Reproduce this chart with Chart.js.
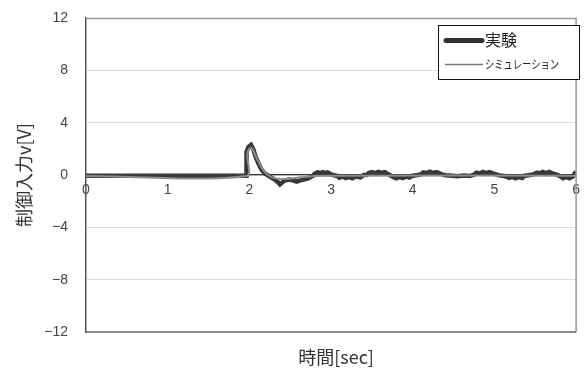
<!DOCTYPE html>
<html>
<head>
<meta charset="utf-8">
<script src="https://cdn.jsdelivr.net/npm/chart.js@4"></script>
<style>
  body { margin: 0; background: #fff; }
  #wrap { width: 587px; height: 372px; position: relative; }
</style>
</head>
<body>
<div id="wrap"><canvas id="grafico"></canvas></div>
<script>
"use strict";
// Datos
const expTiempo = [0, 1.96, 1.965, 1.99, 2.02, 2.05, 2.07, 2.11, 2.15, 2.19, 2.25, 2.31, 2.35, 2.375, 2.40, 2.43, 2.49, 2.54, 2.58, 2.64, 2.72, 2.78, 2.80, 2.84, 2.86, 2.90, 2.93, 2.96, 3.00, 3.04, 3.08, 3.10, 3.14, 3.18, 3.22, 3.26, 3.30, 3.36, 3.40, 3.44, 3.46, 3.50, 3.54, 3.58, 3.62, 3.66, 3.70, 3.72, 3.76, 3.80, 3.84, 3.88, 3.92, 3.96, 4.0, 4.06, 4.10, 4.13, 4.17, 4.21, 4.25, 4.29, 4.33, 4.36, 4.40, 4.48, 4.55, 4.62, 4.70, 4.75, 4.78, 4.82, 4.86, 4.90, 4.94, 4.98, 5.02, 5.06, 5.12, 5.16, 5.18, 5.22, 5.26, 5.30, 5.34, 5.37, 5.42, 5.48, 5.52, 5.55, 5.59, 5.63, 5.67, 5.71, 5.75, 5.78, 5.82, 5.84, 5.88, 5.92, 5.96, 5.98, 6.0];
const expValor = [-0.05, -0.05, 1.75, 2.15, 2.3, 1.95, 1.5, 0.9, 0.4, 0.12, -0.12, -0.35, -0.55, -0.72, -0.58, -0.42, -0.35, -0.42, -0.5, -0.38, -0.25, -0.05, 0.1, 0.2, 0.12, 0.22, 0.15, 0.2, 0.05, -0.02, -0.08, -0.2, -0.12, -0.24, -0.15, -0.25, -0.12, -0.18, 0.0, 0.02, 0.15, 0.22, 0.14, 0.24, 0.16, 0.22, 0.05, 0.0, -0.15, -0.25, -0.14, -0.24, -0.12, -0.2, -0.05, 0.0, 0.05, 0.2, 0.14, 0.25, 0.15, 0.22, 0.12, 0.05, -0.02, -0.06, -0.1, -0.04, -0.08, 0.02, 0.18, 0.12, 0.24, 0.15, 0.22, 0.12, 0.05, -0.03, -0.08, -0.15, -0.22, -0.14, -0.25, -0.15, -0.22, -0.05, -0.02, 0.05, 0.18, 0.12, 0.24, 0.15, 0.23, 0.12, 0.05, -0.02, -0.15, -0.24, -0.14, -0.25, -0.12, 0.1, 0.25];
const simTiempo = [0, 1.965, 1.975, 2.0, 2.03, 2.06, 2.1, 2.15, 2.2, 2.25, 2.3, 2.38, 2.48, 2.6, 2.7, 2.8, 3.0, 6.0];
const simValor = [-0.08, -0.08, 1.6, 2.0, 2.05, 1.7, 1.15, 0.55, 0.15, -0.08, -0.22, -0.3, -0.28, -0.2, -0.13, -0.08, -0.05, -0.05];
const ticksX = [0, 1, 2, 3, 4, 5, 6];
const ticksY = [-12, -8, -4, 0, 4, 8, 12];
const etiquetas = ["実験", "シミュレーション"];

const fuenteJP = "'Noto Sans CJK JP', 'Noto Sans', sans-serif";
const fuenteNum = "'Liberation Sans', Arial, sans-serif";

function armarPuntos(ts, vs) {
    return ts.map((t, i) => ({ x: t, y: vs[i] }));
}

// Marco del área de trazado
const marco = {
    id: "marco",
    afterDatasetsDraw(chart) {
        const { ctx, chartArea: a } = chart;
        ctx.save();
        ctx.lineWidth = 1.5;
        ctx.strokeStyle = "#9a9a9a";
        ctx.beginPath();
        ctx.moveTo(a.left, a.top + 0.5);
        ctx.lineTo(a.right, a.top + 0.5);
        ctx.lineTo(a.right, a.bottom);
        ctx.stroke();
        ctx.strokeStyle = "#666";
        ctx.beginPath();
        ctx.moveTo(a.left, a.bottom);
        ctx.lineTo(a.right, a.bottom);
        ctx.stroke();
        ctx.restore();
    }
};

// Leyenda con recuadro
const leyenda = {
    id: "leyenda",
    afterDraw(chart) {
        const { ctx, chartArea: a } = chart;
        const x0 = a.left + 352, y0 = a.top + 7, w = 141, h = 54;
        ctx.save();
        ctx.fillStyle = "#fff";
        ctx.fillRect(x0, y0, w, h);
        ctx.strokeStyle = "#111";
        ctx.lineWidth = 1;
        ctx.strokeRect(x0 + 0.5, y0 + 0.5, w, h);
        ctx.lineCap = "round";
        ctx.strokeStyle = "#333";
        ctx.lineWidth = 5;
        ctx.beginPath();
        ctx.moveTo(x0 + 8, y0 + 15.5);
        ctx.lineTo(x0 + 44, y0 + 15.5);
        ctx.stroke();
        ctx.lineCap = "butt";
        ctx.strokeStyle = "#777";
        ctx.lineWidth = 1.5;
        ctx.beginPath();
        ctx.moveTo(x0 + 7, y0 + 39.5);
        ctx.lineTo(x0 + 45, y0 + 39.5);
        ctx.stroke();
        ctx.fillStyle = "#222";
        ctx.textBaseline = "middle";
        ctx.textAlign = "left";
        ctx.font = "16px " + fuenteJP;
        ctx.fillText(etiquetas[0], x0 + 47, y0 + 15);
        ctx.font = "12px " + fuenteJP;
        const ancho = ctx.measureText(etiquetas[1]).width;
        ctx.translate(x0 + 47, y0 + 39);
        ctx.scale(74 / ancho, 1);
        ctx.fillText(etiquetas[1], 0, 0);
        ctx.restore();
    }
};

// Título del eje X
const tituloX = {
    id: "tituloX",
    afterDraw(chart) {
        const { ctx, chartArea: a } = chart;
        ctx.save();
        ctx.fillStyle = "#333";
        ctx.font = "18px " + fuenteJP;
        ctx.textAlign = "center";
        ctx.textBaseline = "middle";
        ctx.fillText("時間[sec]", (a.left + a.right) / 2 + 5, 357);
        ctx.restore();
    }
};

const ctx = document.getElementById("grafico");
const grafico = new Chart(ctx, {
    type: "line",
    data: {
        datasets: [
            {
                label: etiquetas[0],
                data: armarPuntos(expTiempo, expValor),
                borderColor: "#383838",
                borderWidth: 4.5,
                borderJoinStyle: "miter",
                pointRadius: 0,
                tension: 0,
                order: 2
            },
            {
                label: etiquetas[1],
                data: armarPuntos(simTiempo, simValor),
                borderColor: "#8c8c8c",
                borderWidth: 2,
                pointRadius: 0,
                tension: 0.3,
                order: 1
            }
        ]
    },
    options: {
        responsive: true,
        maintainAspectRatio: false,
        animation: false,
        events: [],
        layout: { padding: { left: 0, top: 18, right: 5, bottom: 40 } },
        plugins: {
            legend: { display: false },
            tooltip: { enabled: false }
        },
        scales: {
            x: {
                type: "linear",
                position: { y: 0 },
                min: 0,
                max: 6,
                afterBuildTicks: (scale) => {
                    scale.ticks = ticksX.map(v => ({ value: v }));
                },
                afterFit: (scale) => {
                    scale.height = 0;
                },
                grid: { color: "rgba(0,0,0,0)", drawTicks: false },
                border: { display: true, color: "#333", width: 1.2 },
                ticks: {
                    padding: 7,
                    color: "#444",
                    font: { size: 14, family: fuenteNum }
                }
            },
            y: {
                type: "linear",
                position: "left",
                min: -12,
                max: 12,
                afterBuildTicks: (scale) => {
                    scale.ticks = ticksY.map(v => ({ value: v }));
                },
                afterFit: (scale) => {
                    scale.width = 86;
                },
                grid: {
                    color: "#dcdcdc",
                    lineWidth: 1,
                    drawTicks: true,
                    tickLength: 18,
                    tickColor: "rgba(0,0,0,0)"
                },
                border: { display: true, color: "#555", width: 1.5 },
                ticks: {
                    padding: 0,
                    color: "#444",
                    font: { size: 14, family: fuenteNum },
                    callback: (v) => (v < 0 ? "\u2212" + Math.abs(v) : String(v))
                },
                title: {
                    display: true,
                    text: "制御入力v[V]",
                    color: "#333",
                    font: { size: 18, family: fuenteJP },
                    padding: { top: 13, bottom: 0 }
                }
            }
        }
    },
    plugins: [marco, leyenda, tituloX]
});
</script>
</body>
</html>
